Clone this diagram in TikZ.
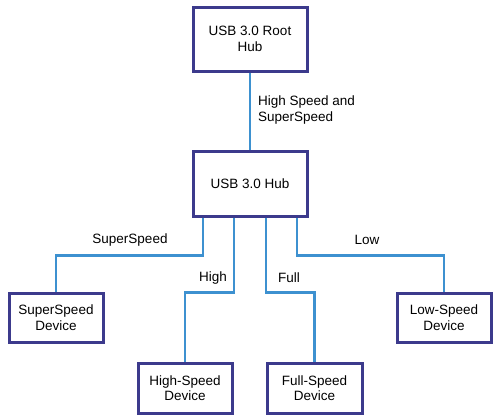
\documentclass[tikz,border=0pt]{standalone}
\usepackage{fontspec}
\setmainfont{Liberation Sans}
\definecolor{boxc}{HTML}{3C3A8C}
\definecolor{linec}{HTML}{3D91D0}
\begin{document}
\begin{tikzpicture}[x=1pt,y=-1pt,
  box/.style={draw=boxc,line width=3pt,fill=white,align=center,inner sep=0pt,
    font=\fontsize{13.5}{15.5}\selectfont},
  conn/.style={draw=linec,line width=2.5pt},
  lbl/.style={font=\fontsize{13.5}{15.5}\selectfont,inner sep=0pt}]
\useasboundingbox (0,0) rectangle (500,418);
\node[box,minimum width=114pt,minimum height=64pt] (root) at (250,39) {USB 3.0 Root\\Hub};
\node[box,minimum width=114pt,minimum height=65pt] (hub) at (250,183.5) {USB 3.0 Hub};
\node[box,minimum width=94pt,minimum height=49pt] (ss) at (56,317.5) {SuperSpeed\\Device};
\node[box,minimum width=94pt,minimum height=49pt] (ls) at (444,317.5) {Low-Speed\\Device};
\node[box,minimum width=94pt,minimum height=50pt] (hs) at (185,388) {High-Speed\\Device};
\node[box,minimum width=95pt,minimum height=50pt] (fs) at (314.5,388) {Full-Speed\\Device};
\draw[conn] (root.south) -- (hub.north);
\draw[conn] ([xshift=-47pt]hub.south) -- ++(0,38) -| (ss.north);
\draw[conn] ([xshift=47pt]hub.south) -- ++(0,38) -| (ls.north);
\draw[conn] ([xshift=-16pt]hub.south) -- ++(0,75) -| (hs.north);
\draw[conn] ([xshift=16pt]hub.south) -- ++(0,75) -| (fs.north);
\node[lbl,anchor=west,align=left] (l0) at (258,110) {High Speed and\\SuperSpeed};
\node[lbl] (l1) at (130,240) {SuperSpeed};
\node[lbl] (l2) at (367,240) {Low};
\node[lbl] (l3) at (213,278) {High};
\node[lbl] (l4) at (289,278) {Full};
\end{tikzpicture}
\end{document}
